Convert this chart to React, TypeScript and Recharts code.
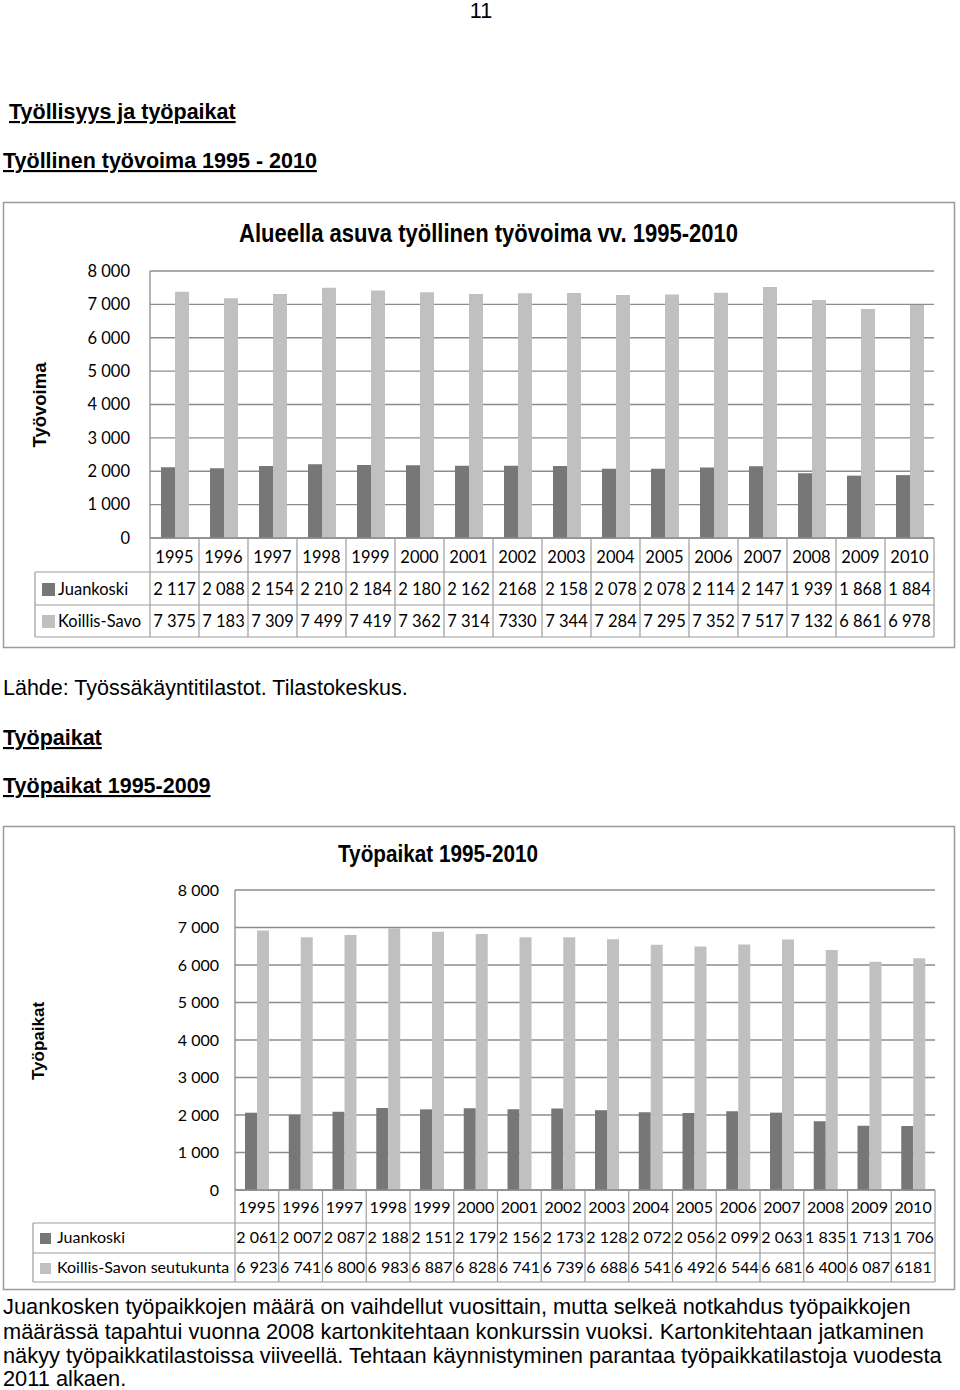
import React from "react";
import { BarChart, Bar, XAxis, YAxis, CartesianGrid } from "recharts";

const years = [
  "1995", "1996", "1997", "1998", "1999", "2000", "2001", "2002",
  "2003", "2004", "2005", "2006", "2007", "2008", "2009", "2010",
];

// työvoima (alueella asuva työllinen työvoima)
const juankoskiWorkforce = [2117, 2088, 2154, 2210, 2184, 2180, 2162, 2168, 2158, 2078, 2078, 2114, 2147, 1939, 1868, 1884];
const koillisSavoWorkforce = [7375, 7183, 7309, 7499, 7419, 7362, 7314, 7330, 7344, 7284, 7295, 7352, 7517, 7132, 6861, 6978];
const juankoskiWorkforceLabels = ["2 117", "2 088", "2 154", "2 210", "2 184", "2 180", "2 162", "2168", "2 158", "2 078", "2 078", "2 114", "2 147", "1 939", "1 868", "1 884"];
const koillisSavoWorkforceLabels = ["7 375", "7 183", "7 309", "7 499", "7 419", "7 362", "7 314", "7330", "7 344", "7 284", "7 295", "7 352", "7 517", "7 132", "6 861", "6 978"];

// työpaikat
const juankoskiJobs = [2061, 2007, 2087, 2188, 2151, 2179, 2156, 2173, 2128, 2072, 2056, 2099, 2063, 1835, 1713, 1706];
const koillisSavoJobs = [6923, 6741, 6800, 6983, 6887, 6828, 6741, 6739, 6688, 6541, 6492, 6544, 6681, 6400, 6087, 6181];
const juankoskiJobsLabels = ["2 061", "2 007", "2 087", "2 188", "2 151", "2 179", "2 156", "2 173", "2 128", "2 072", "2 056", "2 099", "2 063", "1 835", "1 713", "1 706"];
const koillisSavoJobsLabels = ["6 923", "6 741", "6 800", "6 983", "6 887", "6 828", "6 741", "6 739", "6 688", "6 541", "6 492", "6 544", "6 681", "6 400", "6 087", "6181"];

const yTicks = [0, 1000, 2000, 3000, 4000, 5000, 6000, 7000, 8000];

const DARK = "#777777";
const LIGHT = "#c0c0c0";
const GRID = "#8c8c8c";
const BORDER = "#9c9c9c";
const SANS = "'Liberation Sans', Arial, sans-serif";
const CAL = "Lato, 'Open Sans', sans-serif";

const fmt = (v: number) =>
  v >= 1000 ? `${Math.floor(v / 1000)} ${String(v % 1000).padStart(3, "0")}` : String(v);

type TableCfg = {
  col: number;
  rows: number[];
  baselines: number[];
  fontSize: number;
  legendLeft: number;
  markerX: number;
  markerSize: number;
  labelX: number;
  names: string[];
  values: string[][];
};

function TableTick(props: any) {
  const { x, y, payload, cfg } = props;
  const c: TableCfg = cfg;
  const i = typeof props.index === "number" ? props.index : years.indexOf(payload.value);
  const half = c.col / 2;
  const l = x - half;
  const r = x + half;
  const bottom = y + c.rows[3];
  const last = i === years.length - 1;
  return (
    <g>
      <line x1={l} y1={y} x2={l} y2={bottom} stroke={BORDER} strokeWidth={1.2} />
      {last && <line x1={r} y1={y} x2={r} y2={bottom} stroke={BORDER} strokeWidth={1.2} />}
      {c.rows.slice(1).map((ry) => (
        <line key={ry} x1={l} y1={y + ry} x2={r} y2={y + ry} stroke={BORDER} strokeWidth={1.2} />
      ))}
      <text x={x} y={y + c.baselines[0]} textAnchor="middle" fontSize={c.fontSize} fontFamily={CAL} fill="#000">
        {payload.value}
      </text>
      {c.values.map((vals, k) => (
        <text key={k} x={x} y={y + c.baselines[k + 1]} textAnchor="middle" fontSize={c.fontSize} fontFamily={CAL} fill="#000">
          {vals[i]}
        </text>
      ))}
      {i === 0 && (
        <g>
          <line x1={c.legendLeft} y1={y + c.rows[1]} x2={l} y2={y + c.rows[1]} stroke={BORDER} strokeWidth={1.2} />
          <line x1={c.legendLeft} y1={y + c.rows[2]} x2={l} y2={y + c.rows[2]} stroke={BORDER} strokeWidth={1.2} />
          <line x1={c.legendLeft} y1={y + c.rows[3]} x2={l} y2={y + c.rows[3]} stroke={BORDER} strokeWidth={1.2} />
          <line x1={c.legendLeft} y1={y + c.rows[1]} x2={c.legendLeft} y2={bottom} stroke={BORDER} strokeWidth={1.2} />
          {c.names.map((name, k) => (
            <g key={name}>
              <rect
                x={c.markerX}
                y={y + c.baselines[k + 1] - c.markerSize + 1}
                width={c.markerSize}
                height={c.markerSize}
                fill={k === 0 ? DARK : LIGHT}
              />
              <text x={c.labelX} y={y + c.baselines[k + 1]} fontSize={c.fontSize} fontFamily={CAL} fill="#000">
                {name}
              </text>
            </g>
          ))}
        </g>
      )}
    </g>
  );
}

const cfg1: TableCfg = {
  col: 49,
  rows: [0, 34, 67, 99],
  baselines: [25, 57, 89],
  fontSize: 16.5,
  legendLeft: 35,
  markerX: 42,
  markerSize: 13,
  labelX: 58,
  names: ["Juankoski", "Koillis-Savo"],
  values: [juankoskiWorkforceLabels, koillisSavoWorkforceLabels],
};

const cfg2: TableCfg = {
  col: 43.75,
  rows: [0, 33, 63, 92],
  baselines: [23, 53, 83],
  fontSize: 16,
  legendLeft: 33,
  markerX: 40,
  markerSize: 11,
  labelX: 57,
  names: ["Juankoski", "Koillis-Savon seutukunta"],
  values: [juankoskiJobsLabels, koillisSavoJobsLabels],
};

const data1 = years.map((year, i) => ({
  year,
  juankoski: juankoskiWorkforce[i],
  koillis: koillisSavoWorkforce[i],
}));

const data2 = years.map((year, i) => ({
  year,
  juankoski: juankoskiJobs[i],
  koillis: koillisSavoJobs[i],
}));

const heading = { fontFamily: SANS, fontSize: 21.5, fontWeight: 700, textDecoration: "underline" } as const;
const body = { fontFamily: SANS, fontSize: 21.5 } as const;
const para = { fontFamily: SANS, fontSize: 21.8 } as const;

export default function App() {
  return (
    <div style={{ position: "absolute", left: 0, top: 0, width: 960, height: 1390, background: "#fff", overflow: "hidden" }}>
      <svg width={960} height={1390} style={{ position: "absolute", left: 0, top: 0 }}>
        <text x={481} y={18} textAnchor="middle" style={body}>11</text>
        <text x={9} y={119} style={heading}>Työllisyys ja työpaikat</text>
        <text x={3} y={168} style={heading}>Työllinen työvoima 1995 - 2010</text>

        <rect x={3.5} y={202.5} width={951} height={445} fill="none" stroke={BORDER} strokeWidth={1.5} />
        <text x={239} y={242} textLength={499} lengthAdjust="spacingAndGlyphs"
          fontFamily="'Liberation Sans Narrow', 'Liberation Sans', Arial" fontWeight={700} fontSize={26}>
          Alueella asuva työllinen työvoima vv. 1995-2010
        </text>
        <text transform="translate(46,405) rotate(-90)" textAnchor="middle" fontFamily={SANS} fontWeight={700} fontSize={18.5}>
          Työvoima
        </text>

        <text x={3} y={695} style={body}>Lähde: Työssäkäyntitilastot. Tilastokeskus.</text>
        <text x={3} y={745} style={heading}>Työpaikat</text>
        <text x={3} y={793} style={heading}>Työpaikat 1995-2009</text>

        <rect x={3.5} y={826.5} width={951} height={463} fill="none" stroke={BORDER} strokeWidth={1.5} />
        <text x={338} y={862} textLength={200} lengthAdjust="spacingAndGlyphs"
          fontFamily="'Liberation Sans Narrow', 'Liberation Sans', Arial" fontWeight={700} fontSize={24}>
          Työpaikat 1995-2010
        </text>
        <text transform="translate(44,1041) rotate(-90)" textAnchor="middle" fontFamily={SANS} fontWeight={700} fontSize={17}>
          Työpaikat
        </text>

        <text x={3} y={1314} style={para}>Juankosken työpaikkojen määrä on vaihdellut vuosittain, mutta selkeä notkahdus työpaikkojen</text>
        <text x={3} y={1339} style={para}>määrässä tapahtui vuonna 2008 kartonkitehtaan konkurssin vuoksi. Kartonkitehtaan jatkaminen</text>
        <text x={3} y={1363} style={para}>näkyy työpaikkatilastoissa viiveellä. Tehtaan käynnistyminen parantaa työpaikkatilastoja vuodesta</text>
        <text x={3} y={1386} style={para}>2011 alkaen.</text>
      </svg>

      <div style={{ position: "absolute", left: 0, top: 200 }}>
        <BarChart width={960} height={450} data={data1} margin={{ top: 71, right: 26, bottom: 13, left: 0 }} barGap={0}>
          <CartesianGrid vertical={false} stroke={GRID} strokeWidth={1.3} />
          <XAxis
            dataKey="year"
            height={99}
            interval={0}
            tickSize={0}
            tickMargin={0}
            tickLine={false}
            axisLine={{ stroke: GRID, strokeWidth: 1.3 }}
            tick={(p: any) => <TableTick {...p} cfg={cfg1} />}
          />
          <YAxis
            width={150}
            domain={[0, 8000]}
            ticks={yTicks}
            interval={0}
            tickSize={0}
            tickMargin={20}
            tickLine={false}
            tickFormatter={fmt}
            axisLine={{ stroke: GRID, strokeWidth: 1.3 }}
            tick={{ fontSize: 16.5, fill: "#000", fontFamily: CAL }}
          />
          <Bar dataKey="juankoski" fill={DARK} barSize={14} isAnimationActive={false} />
          <Bar dataKey="koillis" fill={LIGHT} barSize={14} isAnimationActive={false} />
        </BarChart>
      </div>

      <div style={{ position: "absolute", left: 0, top: 820 }}>
        <BarChart width={960} height={470} data={data2} margin={{ top: 70, right: 25, bottom: 8, left: 0 }} barGap={0}>
          <CartesianGrid vertical={false} stroke={GRID} strokeWidth={1.3} />
          <XAxis
            dataKey="year"
            height={92}
            interval={0}
            tickSize={0}
            tickMargin={0}
            tickLine={false}
            axisLine={{ stroke: GRID, strokeWidth: 1.3 }}
            tick={(p: any) => <TableTick {...p} cfg={cfg2} />}
          />
          <YAxis
            width={235}
            domain={[0, 8000]}
            ticks={yTicks}
            interval={0}
            tickSize={0}
            tickMargin={16}
            tickLine={false}
            tickFormatter={fmt}
            axisLine={{ stroke: GRID, strokeWidth: 1.3 }}
            tick={{ fontSize: 16, fill: "#000", fontFamily: CAL }}
          />
          <Bar dataKey="juankoski" fill={DARK} barSize={12} isAnimationActive={false} />
          <Bar dataKey="koillis" fill={LIGHT} barSize={12} isAnimationActive={false} />
        </BarChart>
      </div>
    </div>
  );
}
